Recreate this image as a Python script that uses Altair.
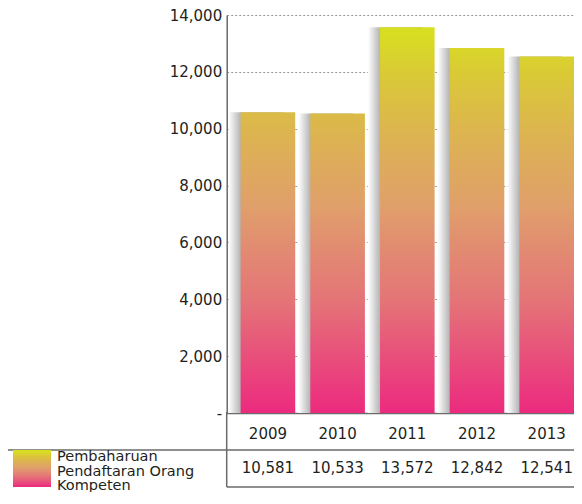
import altair as alt
import pandas as pd

# ---- data ----
years = ["2009", "2010", "2011", "2012", "2013"]
values = [10581, 10533, 13572, 12842, 12541]
y_ticks = [0, 2000, 4000, 6000, 8000, 10000, 12000, 14000]
series_label = ["Pembaharuan", "Pendaftaran Orang", "Kompeten"]

df = pd.DataFrame({"year": years, "value": values})

# ---- style ----
FONT = "DejaVu Sans"
TEXT = "#231F20"
LINE = "#6a6a6a"
YMAX = 14000
# colour ramp along the value axis (pink at 0 -> yellow-green at 14,000)
RAMP = [(0, "#EC2A7E"), (1130, "#EA3F7D"), (3950, "#E47477"), (5700, "#E28A72"),
        (7300, "#E0A06A"), (9400, "#DDB055"), (11530, "#DAC53B"),
        (13360, "#D8DD22"), (14000, "#D8E01E")]


def hex2rgb(h):
    h = h.lstrip("#")
    return [int(h[i:i + 2], 16) for i in (0, 2, 4)]


def ramp_at(v):
    for (a, ca), (b, cb) in zip(RAMP[:-1], RAMP[1:]):
        if a <= v <= b:
            t = (v - a) / (b - a) if b > a else 0
            ra, rb = hex2rgb(ca), hex2rgb(cb)
            c = [round(x + (y - x) * t) for x, y in zip(ra, rb)]
            return "#%02x%02x%02x" % tuple(c)
    return RAMP[-1][1]


def bar_gradient(v):
    stops = [{"offset": s / v, "color": c} for s, c in RAMP if s < v]
    stops.append({"offset": 1, "color": ramp_at(v)})
    return {"gradient": "linear", "x1": 0, "y1": 1, "x2": 0, "y2": 0, "stops": stops}


swatch_grad = {"gradient": "linear", "x1": 0, "y1": 1, "x2": 0, "y2": 0,
               "stops": [{"offset": s / YMAX, "color": c} for s, c in RAMP]}
shadow_grad = {"gradient": "linear", "x1": 0, "y1": 0, "x2": 1, "y2": 0,
               "stops": [{"offset": 0, "color": "#ffffff"},
                         {"offset": 0.22, "color": "#b4b4b4"},
                         {"offset": 1, "color": "#b4b4b4"}]}

# ---- layout (page coordinates) ----
PLOT_LEFT, PLOT_TOP = 226.7, 15.0
PAGE_RIGHT = 574          # 582 window - 8px body margin
W = PAGE_RIGHT - PLOT_LEFT
H = 398
SVG_H = 484


def px(x):
    return x - PLOT_LEFT


def py(y):
    return y - PLOT_TOP


xscale = alt.Scale(domain=years, paddingInner=0.2168, paddingOuter=0.1, align=1)
X = alt.X("year:N", scale=xscale, sort=years,
          axis=alt.Axis(title=None, labelAngle=0, ticks=False, labelFont=FONT,
                        labelFontSize=15, labelColor=TEXT, labelPadding=20,
                        labelBaseline="middle", domainColor=LINE, domainWidth=1.5,
                        grid=False))
Y = alt.Y("value:Q", scale=alt.Scale(domain=[0, YMAX], nice=False),
          axis=alt.Axis(title=None, values=y_ticks, ticks=False, labelFont=FONT,
                        labelFontSize=15, labelColor=TEXT, labelPadding=5,
                        labelExpr="datum.value == 0 ? '-' : format(datum.value, ',')",
                        domainColor=LINE, domainWidth=1.5,
                        grid=True, gridColor="#9a9a9a", gridDash=[2, 2], gridWidth=1))

base = alt.Chart(df)
shadow = base.mark_bar(color=shadow_grad, xOffset=-12).encode(x=X, y=Y)
bars = [base.transform_filter(alt.datum.year == yr).mark_bar(color=bar_gradient(v)).encode(x=X, y=Y)
        for yr, v in zip(years, values)]

vals = base.mark_text(font=FONT, fontSize=15, color=TEXT, baseline="middle").encode(
    x=X, y=alt.value(py(468)), text=alt.Text("value:Q", format=","))

one = alt.Chart(pd.DataFrame({"k": [0]}))
hline_top = one.mark_rule(color=LINE, strokeWidth=1.5).encode(
    x=alt.value(px(8)), x2=alt.value(W), y=alt.value(py(450)))
hline_bot = one.mark_rule(color=LINE, strokeWidth=1.5).encode(
    x=alt.value(0), x2=alt.value(W), y=alt.value(py(487)))
vline = one.mark_rule(color=LINE, strokeWidth=1.5).encode(
    x=alt.value(0), y=alt.value(py(412)), y2=alt.value(py(487)))
swatch = one.mark_rect(color=swatch_grad).encode(
    x=alt.value(px(13)), x2=alt.value(px(51)), y=alt.value(py(450)), y2=alt.value(py(487)))
legend_text = one.mark_text(font=FONT, fontSize=14.5, color=TEXT, align="left",
                            baseline="alphabetic", lineHeight=14.5).encode(
    x=alt.value(px(57)), y=alt.value(py(461)), text=alt.value(series_label))

chart = alt.layer(shadow, *bars, vals, hline_top, hline_bot, vline, swatch, legend_text).properties(
    width=W, height=H, autosize=alt.AutoSizeParams(type="none"),
    padding={"left": PLOT_LEFT - 8, "top": PLOT_TOP - 8, "right": 0,
             "bottom": SVG_H - (PLOT_TOP - 8) - H},
    background="white",
).configure_view(stroke=None)

chart.save("out.html", embed_options={"renderer": "svg", "actions": False})
